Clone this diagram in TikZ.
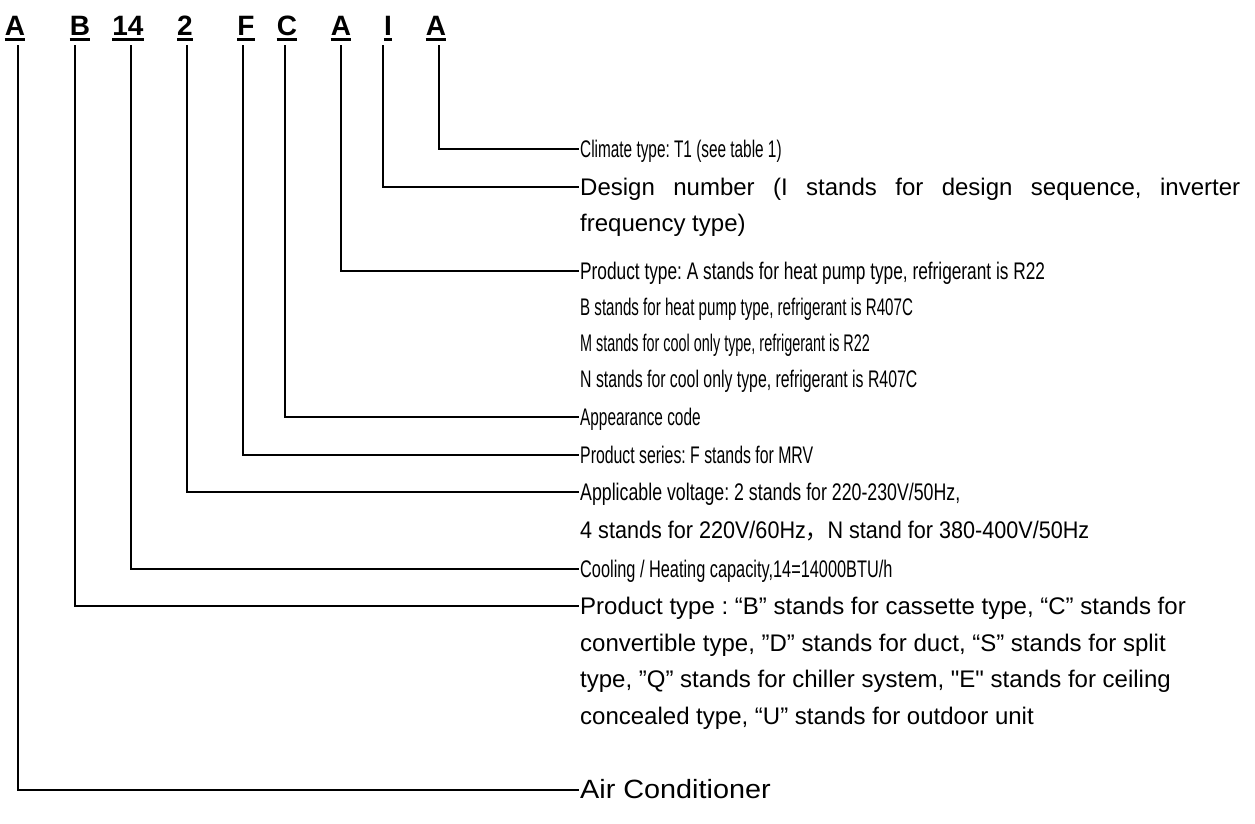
\documentclass[tikz,border=0pt]{standalone}
\usepackage{fontspec}
\setmainfont{Liberation Sans}
\newfontfamily\cjk{Noto Sans CJK SC}
\newfontfamily\rawfont{Liberation Sans}[Ligatures=TeXOff]
\newcommand{\sq}{{\rawfont "}}
\newcommand{\nx}[2]{\scalebox{#1}[1]{#2}}
\begin{document}
\frenchspacing
\begin{tikzpicture}[x=1pt,y=-1pt,
  code/.style={font=\fontsize{28}{28}\selectfont\bfseries, inner sep=0pt, anchor=base},
  desc/.style={font=\fontsize{24}{24}\selectfont, inner sep=0pt, anchor=west, text height=17pt, text depth=0pt},
  leader/.style={line width=1.8pt, black, shorten >=1pt},
  uline/.style={line width=3pt}]
\useasboundingbox (0,0) rectangle (1255,823);
% code letters
\node[code] (cA)  at (15,35)  {A};
\node[code] (cB)  at (80,35)  {B};
\node[code] (c14) at (128,35) {14};
\node[code] (c2)  at (185,35) {2};
\node[code] (cF)  at (246,35) {F};
\node[code] (cC)  at (287,35) {C};
\node[code] (cA2) at (341,35) {A};
\node[code] (cI)  at (388,35) {I};
\node[code] (cA3) at (436,35) {A};
\foreach \n in {cA,cB,c14,c2,cF,cC,cA2,cI,cA3}
  \draw[uline] ([yshift=-4.5pt]\n.base west) -- ([yshift=-4.5pt]\n.base east);
% leader tops
\coordinate (vA)  at (18,45);
\coordinate (vB)  at (75,45);
\coordinate (v14) at (131,45);
\coordinate (v2)  at (187,45);
\coordinate (vF)  at (243,45);
\coordinate (vC)  at (285,45);
\coordinate (vA2) at (341,45);
\coordinate (vI)  at (383,45);
\coordinate (vA3) at (439,45);
% descriptions
\node[desc] (d1)  at (580,149) {\nx{0.64}{Climate type: T1 (see table 1)}};
\node[desc] (d2)  at (580,187) {\makebox[660pt][s]{Design number (I stands for design sequence, inverter}};
\node[desc] (d2b) at (580,223) {frequency type)};
\node[desc] (d3)  at (580,271) {\nx{0.72}{Product type: A stands for heat pump type, refrigerant is R22}};
\node[desc] (d3b) at (580,307) {\nx{0.63}{B stands for heat pump type, refrigerant is R407C}};
\node[desc] (d3c) at (580,343) {\nx{0.60}{M stands for cool only type, refrigerant is R22}};
\node[desc] (d3d) at (580,379) {\nx{0.66}{N stands for cool only type, refrigerant is R407C}};
\node[desc] (d4)  at (580,417) {\nx{0.64}{Appearance code}};
\node[desc] (d5)  at (580,455) {\nx{0.66}{Product series: F stands for MRV}};
\node[desc] (d6)  at (580,492) {\nx{0.74}{Applicable voltage: 2 stands for 220-230V/50Hz,}};
\node[desc] (d6b) at (580,530) {\nx{0.90}{4 stands for 220V/60Hz{\cjk ，}N stand for 380-400V/50Hz}};
\node[desc] (d7)  at (580,569) {\nx{0.68}{Cooling / Heating capacity,14=14000BTU/h}};
\node[desc] (d8)  at (580,606) {Product type : “B” stands for cassette type, “C” stands for};
\node[desc] (d8b) at (580,643) {convertible type, ”D” stands for duct, “S” stands for split};
\node[desc] (d8c) at (580,679) {type, ”Q” stands for chiller system, \sq E\sq{} stands for ceiling};
\node[desc] (d8d) at (580,716) {concealed type, “U” stands for outdoor unit};
\node[desc] (d9)  at (580,790) {\scalebox{1.2}[1.1]{Air Conditioner}};
% leaders
\draw[leader] (vA3) |- (d1.west);
\draw[leader] (vI)  |- (d2.west);
\draw[leader] (vA2) |- (d3.west);
\draw[leader] (vC)  |- (d4.west);
\draw[leader] (vF)  |- (d5.west);
\draw[leader] (v2)  |- (d6.west);
\draw[leader] (v14) |- (d7.west);
\draw[leader] (vB)  |- (d8.west);
\draw[leader] (vA)  |- (d9.west);
\end{tikzpicture}
\end{document}
